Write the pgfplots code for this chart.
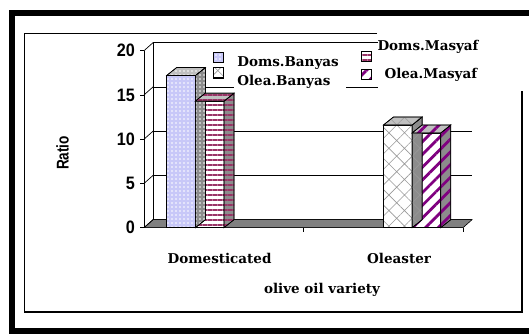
\documentclass[border=0pt]{standalone}
\usepackage{pgfplots}
\pgfplotsset{compat=1.18}
\usetikzlibrary{patterns.meta}
\usepackage{fontspec}
\setmainfont{DejaVu Serif}
\newfontfamily\tickfont[FakeStretch=0.9]{Liberation Sans Bold}
\newfontfamily\ratiofont[FakeStretch=0.8]{Liberation Sans Bold}
\definecolor{bluebase}{HTML}{C8C8F8}
\definecolor{maroonline}{HTML}{993366}
\definecolor{purpleline}{HTML}{800080}
\definecolor{sidegray}{HTML}{8C8C8C}
\definecolor{topgray}{HTML}{C0C0C0}
\definecolor{floorgray}{HTML}{808080}
\pgfdeclareplotmark{empty}{}
\tikzset{
  patA/.style={pattern={Dots[distance=4bp,radius=0.9bp]}, pattern color=white},
  patB/.style={pattern={Lines[angle=0,distance=5bp,line width=1.3bp]}, pattern color=maroonline},
  patC/.style={pattern={Hatch[angle=45,distance=11bp,line width=0.6bp]}, pattern color=black!40},
  patD/.style={pattern={Lines[angle=45,distance=9bp,line width=2.8bp]}, pattern color=purpleline},
  sA/.style={fill=bluebase, postaction={patA}},
  sB/.style={fill=white, postaction={patB}},
  sC/.style={fill=white, postaction={patC}},
  sD/.style={fill=white, postaction={patD}},
}
\pgfplotsset{
  front/.style={forget plot, ybar, bar width=28.7bp, bar shift=0pt, draw=black, line width=0.6bp, #1},
  box3d/.style={
    forget plot, only marks, scatter, mark=empty, point meta=y,
    visualization depends on={rawy \as \rawy},
    scatter/@pre marker code/.code={%
      \path[fill=sidegray, postaction={#1}] (14.35bp,0pt) -- ++(10bp,8bp) -- ++(0pt,{-\rawy*8.85bp}) -- ++(-10bp,-8bp) -- cycle;
      \draw[line width=0.6bp] (14.35bp,0pt) -- ++(10bp,8bp) -- ++(0pt,{-\rawy*8.85bp}) -- ++(-10bp,-8bp) -- cycle;
      \path[fill=topgray, postaction={#1}] (-14.35bp,0pt) -- ++(10bp,8bp) -- ++(28.7bp,0pt) -- ++(-10bp,-8bp) -- cycle;
      \draw[line width=0.6bp] (-14.35bp,0pt) -- ++(10bp,8bp) -- ++(28.7bp,0pt) -- ++(-10bp,-8bp) -- cycle;
    },
    scatter/@post marker code/.code={},
  },
}
\begin{document}
\begin{tikzpicture}
\useasboundingbox (0,0) rectangle (529bp,335bp);
\fill[white] (0,0) rectangle (529bp,335bp);
% outer thick frame
\draw[line width=5.5bp] (531bp,322bp) -- (12bp,322bp) -- (12bp,4bp) -- (531bp,4bp);
% inner frame (partly hidden in the original)
\draw[line width=1.8bp] (377bp,301.5bp) -- (24.5bp,301.5bp) -- (24.5bp,23.3bp) -- (522bp,23.3bp) -- (522bp,245bp);
\fill (524bp,279bp) rectangle +(1.5bp,2bp);

\begin{axis}[
  at={(144bp,107.3bp)}, anchor=south west,
  scale only axis, width=319bp, height=177bp,
  xmin=-0.237, xmax=1.235, ymin=0, ymax=20,
  clip=false,
  axis x line*=bottom, axis y line*=left,
  axis line style={line width=0.8bp},
  ytick={0,5,10,15,20},
  tick align=outside, major tick length=4bp,
  ytick style={line width=0.8bp, black},
  xtick={0.1117,0.94}, xticklabels={Domesticated,Oleaster},
  xtick style={draw=none},
  xticklabel style={font=\bfseries\fontsize{13.5bp}{16bp}\selectfont, anchor=base, yshift=-31.6bp},
  yticklabel style={font=\tickfont\fontsize{18bp}{18bp}\selectfont, anchor=east, inner sep=0pt, xshift=-5bp},
  /pgf/number format/assume math mode=true,
  legend image code/.code={\path (0bp,0bp) rectangle (10bp,10bp); \draw[overlay,#1,draw=black,line width=0.6bp] (0bp,0bp) rectangle (10bp,10bp);},
  legend style={at={(0.2163,0.9927)}, anchor=north west, draw=none, fill=none, inner sep=0pt, row sep=-0.5bp,
     nodes={inner sep=0pt, font=\bfseries\fontsize{13.5bp}{16bp}\selectfont},
     /tikz/every odd column/.append style={column sep=13.7bp}},
  legend cell align=left,
]
% back wall gridlines (offset 9bp right, 8bp up = 0.0415 and 0.904 data units)
\draw[line width=0.7bp] (axis cs:-0.1955,0.904) -- (axis cs:1.2765,0.904);
\draw[line width=0.7bp] (axis cs:-0.1955,5.904) -- (axis cs:1.2765,5.904);
\draw[line width=0.7bp] (axis cs:-0.1955,10.904) -- (axis cs:1.2765,10.904);
\draw[line width=0.7bp] (axis cs:-0.1955,15.904) -- (axis cs:1.2765,15.904);
\draw[line width=0.7bp] (axis cs:-0.1955,20.904) -- (axis cs:1.2765,20.904);
% parts of the back wall hidden by the legend area
\fill[white] (axis cs:0.179,15.5) rectangle (axis cs:0.697,20.4);
\fill[white] (axis cs:0.843,15.5) rectangle (axis cs:1.6,22.5);
% floor and wall edges
\filldraw[fill=floorgray, draw=black, line width=0.6bp] (axis cs:-0.237,0) -- (axis cs:1.235,0) -- (axis cs:1.2765,0.904) -- (axis cs:-0.1955,0.904) -- cycle;
\draw[line width=0.7bp] (axis cs:-0.1955,0.904) -- (axis cs:-0.1955,20.904);
\draw[line width=0.7bp] (axis cs:-0.237,0) -- (axis cs:-0.1955,0.904);
\draw[line width=0.7bp] (axis cs:-0.237,5) -- (axis cs:-0.1955,5.904);
\draw[line width=0.7bp] (axis cs:-0.237,10) -- (axis cs:-0.1955,10.904);
\draw[line width=0.7bp] (axis cs:-0.237,15) -- (axis cs:-0.1955,15.904);
\draw[line width=0.7bp] (axis cs:-0.237,20) -- (axis cs:-0.1955,20.904);
\draw[line width=0.8bp] (axis cs:0.497,0) -- (axis cs:0.497,-0.452);
\draw[line width=0.8bp] (axis cs:1.235,0) -- (axis cs:1.235,-0.452);

% Doms.Banyas
\addplot[box3d=patA] coordinates {(-0.066,17.2)};
\addplot[front=sA] coordinates {(-0.066,17.2)};
% Doms.Masyaf
\addplot[box3d=patB] coordinates {(0.066,14.3)};
\addplot[front=sB] coordinates {(0.066,14.3)};
% Olea.Banyas
\addplot[box3d=patC] coordinates {(0.934,11.6)};
\addplot[front=sC] coordinates {(0.934,11.6)};
% Olea.Masyaf
\addplot[box3d=patD] coordinates {(1.066,10.7)};
\addplot[front=sD] coordinates {(1.066,10.7)};

\addlegendimage{sA}\addlegendentry{Doms.Banyas}
\addlegendimage{sC, yshift=3.5bp}\addlegendentry{Olea.Banyas}
\end{axis}

\begin{axis}[
  at={(144bp,107.3bp)}, anchor=south west,
  scale only axis, width=319bp, height=177bp,
  xmin=-0.237, xmax=1.235, ymin=0, ymax=20,
  hide axis, clip=false,
  legend image code/.code={\path (0bp,0bp) rectangle (10bp,10bp); \draw[overlay,#1,draw=black,line width=0.6bp] (0bp,0bp) rectangle (10bp,10bp);},
  legend style={at={(0.680,1.0605)}, anchor=north west, draw=none, fill=none, inner sep=0pt, row sep=6.5bp,
     nodes={inner sep=0pt, font=\bfseries\fontsize{13.5bp}{16bp}\selectfont},
     /tikz/every odd column/.append style={column sep=6bp}},
  legend cell align=left,
]
\addlegendimage{sB, yshift=-15bp}\addlegendentry{Doms.Masyaf}
\addlegendimage{sD, yshift=-6bp}\addlegendentry{\hspace*{7bp}Olea.Masyaf}
\end{axis}

\node[rotate=90, font=\ratiofont\fontsize{17bp}{17bp}\selectfont] at (62.5bp,182bp) {Ratio};
\node[anchor=base, font=\bfseries\fontsize{13.5bp}{16bp}\selectfont] at (322bp,41bp) {olive oil variety};
\end{tikzpicture}
\end{document}
